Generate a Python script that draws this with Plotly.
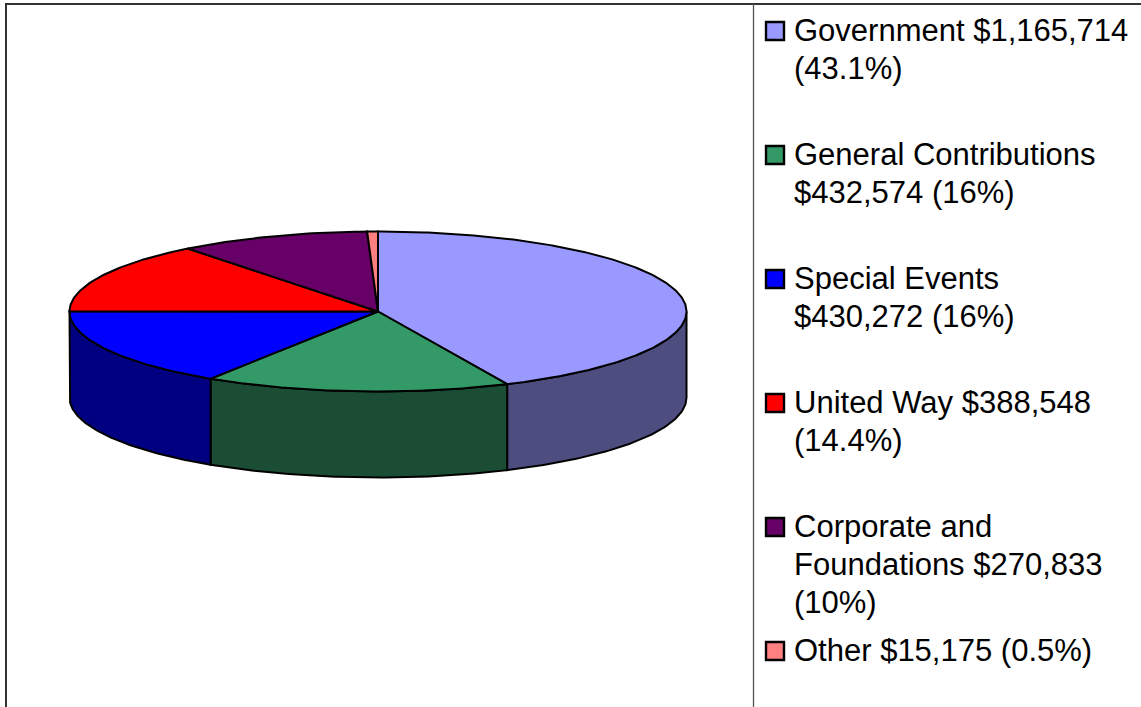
import numpy as np
import plotly.graph_objects as go

categories = ["Government", "General Contributions", "Special Events", "United Way",
              "Corporate and Foundations", "Other"]
values = [1165714, 432574, 430272, 388548, 270833, 15175]
top_colors = ["#9999FF", "#339966", "#0000FF", "#FF0000", "#660066", "#FF8080"]
side_colors = ["#4D4D80", "#1A4D33", "#000080", "#800000", "#330033", "#804040"]
legend_lines = [
    ["Government $1,165,714", "(43.1%)"],
    ["General Contributions", "$432,574 (16%)"],
    ["Special Events", "$430,272 (16%)"],
    ["United Way $388,548", "(14.4%)"],
    ["Corporate and", "Foundations $270,833", "(10%)"],
    ["Other $15,175 (0.5%)"],
]

W, H = 1141, 707
CX, CY, RX, RY, DEPTH = 378, 311.5, 308.5, 80, 86
LEG_SWATCH_X, LEG_TEXT_X, LEG_Y0, LEG_STEP, LINE_H = 775, 794, 31, 124, 38
FRAME_L, FRAME_T, DIVIDER_X = 6, 4, 753.5
FONT = "Liberation Sans"
FONT_SIZE = 31

fracs = np.cumsum([0] + values) / sum(values)
angles = fracs * 2 * np.pi  # clockwise from 12 o'clock


def arc(a0, a1, dy=0.0):
    t = np.linspace(a0, a1, max(int((a1 - a0) * 80), 2))
    return CX + RX * np.sin(t), CY + dy - RY * np.cos(t)


fig = go.Figure()

# frame
fig.add_trace(go.Scatter(x=[FRAME_L, FRAME_L, W], y=[H, FRAME_T, FRAME_T], mode="lines",
                         line=dict(color="#333333", width=2), hoverinfo="skip", showlegend=False))
fig.add_trace(go.Scatter(x=[DIVIDER_X, DIVIDER_X], y=[FRAME_T, H], mode="lines",
                         line=dict(color="#555555", width=1.3), hoverinfo="skip", showlegend=False))

# side walls (only the front half, pi/2..3pi/2, is visible)
for i, cat in enumerate(categories):
    a0, a1 = max(angles[i], np.pi / 2), min(angles[i + 1], 3 * np.pi / 2)
    if a1 <= a0:
        continue
    xt, yt = arc(a0, a1)
    xb, yb = arc(a0, a1, DEPTH)
    fig.add_trace(go.Scatter(
        x=np.r_[xt, xb[::-1], xt[0]], y=np.r_[yt, yb[::-1], yt[0]],
        mode="lines", fill="toself", fillcolor=side_colors[i],
        line=dict(color="black", width=2), hoverinfo="skip", showlegend=False))

# top wedges
for i, cat in enumerate(categories):
    xt, yt = arc(angles[i], angles[i + 1])
    fig.add_trace(go.Scatter(
        x=np.r_[CX, xt, CX], y=np.r_[CY, yt, CY],
        mode="lines", fill="toself", fillcolor=top_colors[i], name=cat,
        line=dict(color="black", width=2), hoverinfo="name", showlegend=False))

# legend
annotations = []
for i, lines in enumerate(legend_lines):
    y0 = LEG_Y0 + i * LEG_STEP
    fig.add_trace(go.Scatter(
        x=[LEG_SWATCH_X], y=[y0], mode="markers", hoverinfo="skip", showlegend=False,
        marker=dict(symbol="square", size=18, color=top_colors[i], line=dict(color="black", width=2.4))))
    for j, line in enumerate(lines):
        annotations.append(dict(x=LEG_TEXT_X, y=y0 + j * LINE_H - 1, text=line, xref="x", yref="y",
                                xanchor="left", yanchor="middle", showarrow=False, align="left",
                                xshift=-2, font=dict(family=FONT, size=FONT_SIZE, color="black")))

fig.update_layout(
    width=W, height=H, margin=dict(l=0, r=0, t=0, b=0),
    paper_bgcolor="white", plot_bgcolor="white", showlegend=False, annotations=annotations,
    xaxis=dict(range=[0, W], visible=False, fixedrange=True),
    yaxis=dict(range=[H, 0], visible=False, fixedrange=True),
)
fig.write_html("out.html", config={"displayModeBar": False},
               post_script="document.body.style.margin='0';document.body.style.overflow='hidden';")
